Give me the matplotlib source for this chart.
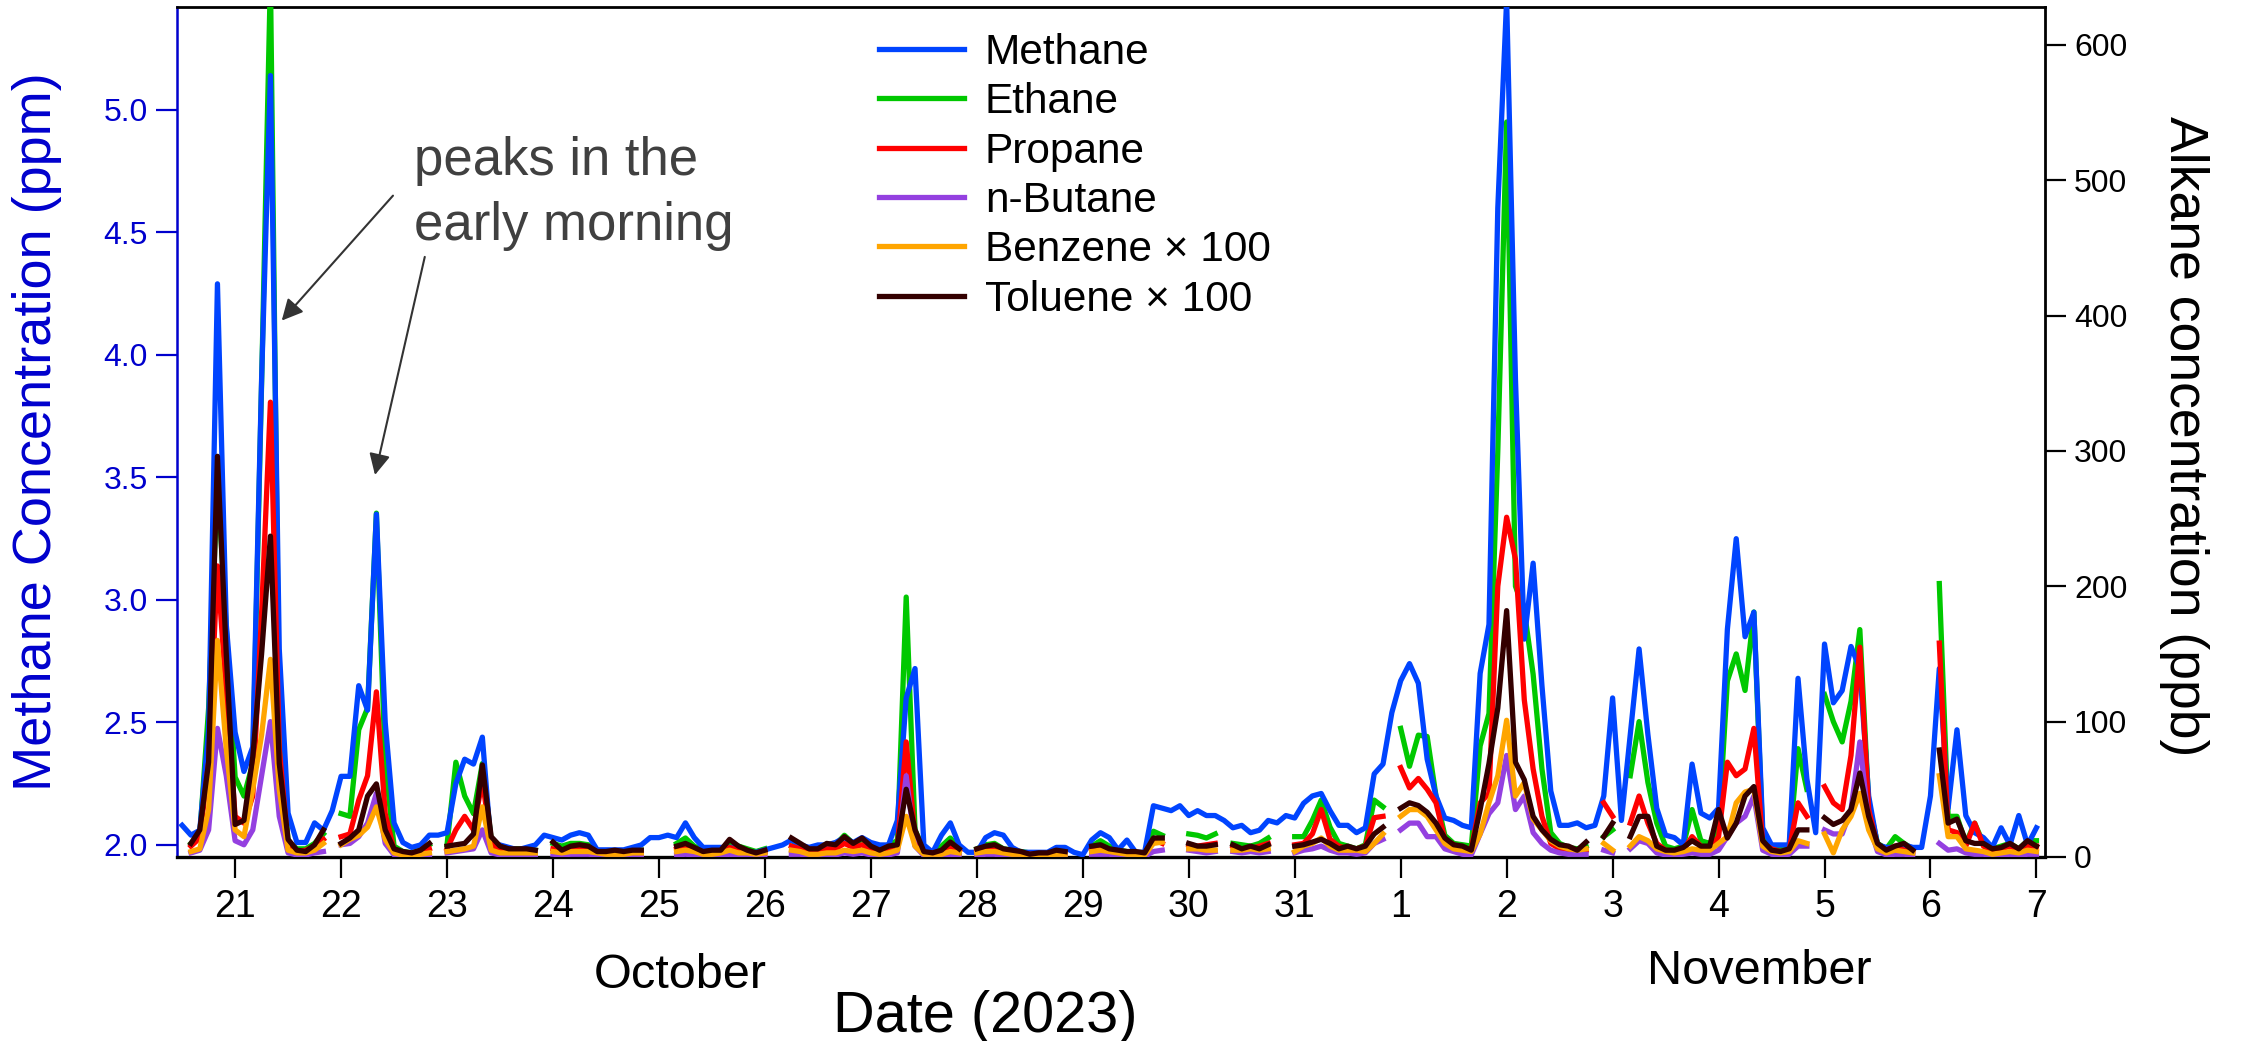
import numpy as np
import matplotlib
matplotlib.use("Agg")
import matplotlib.pyplot as plt
from matplotlib.ticker import FormatStrFormatter

plt.rcParams["font.family"] = ["Liberation Sans", "DejaVu Sans"]

nan = np.nan

# samples every 2 h starting 20 Oct 12:00; x axis = day of October (1 Nov = 32)
start_day = 20.5
step_hours = 2

# methane, ppm (left axis)
methane = [
    2.08, 2.04, 2.06, 2.47, 4.29, 2.90,  # Oct 20 (12h-22h)
    2.46, 2.30, 2.40, 3.90, 5.14, 2.80, 2.13, 2.01, 2.01, 2.09, 2.06, 2.14,  # Oct 21
    2.28, 2.28, 2.65, 2.55, 3.35, 2.50, 2.09, 2.01, 1.99, 2.00, 2.04, 2.04,  # Oct 22
    2.05, 2.25, 2.35, 2.33, 2.44, 1.99, 2.00, 1.99, 1.98, 1.99, 2.00, 2.04,  # Oct 23
    2.03, 2.02, 2.04, 2.05, 2.04, 1.98, 1.98, 1.98, 1.98, 1.99, 2.00, 2.03,  # Oct 24
    2.03, 2.04, 2.03, 2.09, 2.03, 1.99, 1.99, 1.99, 1.99, 1.99, 1.97, 1.97,  # Oct 25
    1.98, 1.99, 2.00, 2.02, 2.00, 1.99, 2.00, 2.00, 2.01, 2.03, 2.01, 2.03,  # Oct 26
    2.01, 2.00, 2.00, 2.10, 2.60, 2.72, 2.00, 1.97, 2.04, 2.09, 2.00, 1.97,  # Oct 27
    1.97, 2.03, 2.05, 2.04, 1.99, 1.97, 1.97, 1.97, 1.97, 1.99, 1.99, 1.97,  # Oct 28
    1.96, 2.02, 2.05, 2.03, 1.98, 2.02, 1.97, 1.97, 2.16, 2.15, 2.14, 2.16,  # Oct 29
    2.12, 2.14, 2.12, 2.12, 2.10, 2.07, 2.08, 2.05, 2.06, 2.10, 2.09, 2.12,  # Oct 30
    2.11, 2.17, 2.20, 2.21, 2.14, 2.08, 2.08, 2.05, 2.07, 2.29, 2.33, 2.54,  # Oct 31
    2.67, 2.74, 2.66, 2.35, 2.20, 2.11, 2.10, 2.08, 2.07, 2.70, 2.90, 4.60,  # Nov 1
    5.45, 3.90, 2.84, 3.15, 2.65, 2.22, 2.08, 2.08, 2.09, 2.07, 2.08, 2.20,  # Nov 2
    2.60, 2.10, 2.45, 2.80, 2.45, 2.15, 2.04, 2.03, 2.00, 2.33, 2.13, 2.11,  # Nov 3
    2.15, 2.88, 3.25, 2.85, 2.95, 2.07, 2.00, 2.00, 2.00, 2.68, 2.27, 2.05,  # Nov 4
    2.82, 2.58, 2.63, 2.81, 2.72, 2.20, 2.00, 1.99, 1.99, 2.00, 1.99, 1.99,  # Nov 5
    2.20, 2.72, 2.15, 2.47, 2.12, 2.05, 2.03, 1.99, 2.07, 2.00, 2.12, 2.00,  # Nov 6
    2.07,  # Nov 7
]

# alkanes and aromatics, ppb (right axis); nan = no GC sample
ethane = [
    nan, 10, 16, 110, 280, 170,
    59, 45, 69, 350, 650, 100, 11, 6, 6, 10, 17, nan,
    32, 30, 94, 110, 254, 69, 8, 4, 3, 5, 9, nan,
    9, 70, 45, 32, 69, 13, 5, 6, 6, 6, 5, nan,
    10, 8, 10, 10, 9, 5, 4, 4, 4, 5, 5, nan,
    nan, nan, 10, 14, 8, 5, 5, 5, 10, 8, 6, 4,
    6, nan, nan, 12, 9, 6, 6, 9, 9, 16, 10, 13,
    8, 6, 9, 12, 192, 20, 5, 4, 8, 14, 6, nan,
    6, 9, 10, 6, 5, 4, 3, 3, 3, 5, 4, nan,
    nan, 8, 12, 8, 5, 4, 3, 3, 19, 16, nan, nan,
    17, 16, 14, 17, nan, 10, 9, 8, 10, 14, nan, nan,
    15, 15, 27, 42, 22, 10, 8, 6, 9, 42, 37, nan,
    95, 67, 90, 89, 45, 16, 10, 9, 8, 82, 106, 300,
    543, 200, 182, 135, 65, 18, 10, 7, 6, 8, nan, 15,
    20, nan, 60, 100, 55, 25, 8, 6, 8, 35, 12, 10,
    20, 130, 150, 123, 181, 15, 8, 6, 8, 80, 50, nan,
    120, 100, 85, 115, 168, 40, 10, 6, 15, 10, 6, nan,
    nan, 202, 30, 30, 10, 25, 10, 6, 8, 10, 6, 12,
    12,
]

propane = [
    nan, 8, 14, 70, 215, 120,
    30, 25, 45, 180, 336, 80, 8, 4, 5, 8, 13, nan,
    15, 17, 42, 60, 122, 32, 5, 3, 2, 4, 6, nan,
    6, 20, 30, 20, 57, 10, 4, 4, 4, 4, 4, nan,
    6, 5, 6, 6, 6, 4, 3, 3, 3, 4, 4, nan,
    nan, nan, 6, 8, 5, 3, 3, 4, 7, 5, 4, 3,
    4, nan, nan, 8, 6, 4, 4, 6, 6, 10, 7, 9,
    5, 4, 5, 7, 85, 15, 3, 3, 4, 8, 4, nan,
    4, 6, 6, 4, 3, 3, 2, 2, 2, 3, 3, nan,
    nan, 5, 7, 5, 3, 3, 2, 2, 13, 10, nan, nan,
    9, 8, 9, 10, nan, 8, 6, 6, 8, 10, nan, nan,
    9, 10, 17, 35, 13, 8, 6, 6, 8, 29, 30, nan,
    66, 51, 58, 50, 40, 13, 9, 6, 6, 40, 47, 200,
    251, 220, 116, 65, 30, 10, 6, 5, 4, 5, nan, 40,
    30, nan, 25, 45, 25, 10, 5, 4, 5, 15, 8, 6,
    15, 70, 60, 65, 95, 10, 6, 4, 5, 40, 30, nan,
    52, 40, 35, 75, 155, 35, 8, 5, 8, 5, 4, nan,
    nan, 158, 20, 18, 8, 25, 8, 4, 6, 8, 5, 8,
    8,
]

n_butane = [
    nan, 3, 5, 20, 95, 60,
    12, 9, 20, 60, 100, 30, 3, 1.5, 1.5, 3, 4, nan,
    9, 10, 15, 25, 47, 10, 1.5, 1, 1, 1, 1.5, nan,
    3, 4, 5, 6, 20, 3, 1.5, 1.5, 1.5, 1.5, 1.5, nan,
    2, 1.5, 2, 2, 2, 1.5, 1, 1, 1, 1, 1, nan,
    nan, nan, 1.5, 2, 1.5, 1, 1, 1, 2, 1, 1, 1,
    1, nan, nan, 2, 2, 1, 1, 1.5, 1.5, 3, 2, 3,
    1.5, 1, 1.5, 3, 60, 8, 1, 1, 1, 2, 1, nan,
    1, 2, 2, 1, 1, 1, 0.5, 0.5, 0.5, 1, 1, nan,
    nan, 2, 2, 2, 1, 1, 1, 0.5, 4, 5, nan, nan,
    5, 4, 3, 4, nan, 4, 3, 4, 3, 4, nan, nan,
    3, 5, 6, 8, 5, 3, 3, 2, 3, 10, 13, nan,
    20, 25, 25, 15, 15, 6, 4, 2, 1.5, 17, 32, 40,
    75, 35, 45, 18, 10, 5, 3, 2, 2, 2, nan, 5,
    3, nan, 6, 12, 10, 3, 1.5, 1.5, 2, 3, 2, 2,
    5, 15, 25, 30, 45, 5, 2, 1.5, 2, 8, 8, nan,
    20, 17, 17, 35, 85, 25, 4, 1.5, 2, 2, 1.5, nan,
    nan, 10, 5, 6, 3, 2, 2, 1, 1, 2, 1, 2,
    2,
]

benzene_x100 = [
    nan, 4, 6, 35, 160, 80,
    20, 15, 50, 90, 146, 50, 5, 3, 3, 5, 10, nan,
    9, 13, 16, 22, 37, 13, 3, 1.5, 1, 2, 3, nan,
    4, 5, 6, 8, 37, 5, 3, 3, 3, 3, 3, nan,
    4, 3, 4, 4, 4, 3, 2, 2, 2, 3, 3, nan,
    nan, nan, 4, 5, 4, 2, 2, 3, 5, 3, 3, 2,
    3, nan, nan, 5, 4, 2, 2, 3, 3, 5, 4, 5,
    3, 2, 3, 5, 30, 8, 2, 2, 2, 4, 3, nan,
    3, 4, 4, 3, 2, 2, 1.5, 1.5, 1.5, 2, 2, nan,
    nan, 4, 5, 4, 3, 2, 2, 1.5, 10, 11, nan, nan,
    6, 6, 5, 5, nan, 5, 5, 6, 5, 6, nan, nan,
    4, 8, 10, 14, 8, 5, 5, 5, 4, 10, 17, nan,
    30, 35, 35, 30, 20, 10, 6, 5, 4, 17, 40, 60,
    101, 45, 55, 28, 20, 12, 8, 6, 5, 6, nan, 10,
    5, nan, 8, 15, 12, 6, 4, 3, 4, 6, 5, 5,
    10, 15, 40, 48, 50, 8, 4, 3, 4, 12, 10, nan,
    17, 3, 20, 30, 47, 20, 6, 3, 5, 4, 3, nan,
    nan, 60, 15, 15, 6, 5, 4, 2, 3, 4, 3, 5,
    4,
]

toluene_x100 = [
    nan, 10, 20, 70, 296, 150,
    24, 27, 74, 150, 237, 69, 13, 5, 4, 9, 20, nan,
    10, 14, 20, 45, 54, 20, 6, 4, 3, 5, 10, nan,
    8, 9, 10, 17, 68, 15, 8, 6, 6, 6, 5, nan,
    11, 5, 8, 9, 8, 4, 4, 5, 4, 5, 5, nan,
    nan, nan, 8, 10, 7, 4, 5, 5, 13, 8, 5, 3,
    5, nan, nan, 14, 10, 6, 6, 10, 9, 15, 10, 14,
    8, 5, 8, 9, 50, 20, 4, 3, 5, 11, 6, nan,
    6, 8, 9, 6, 5, 4, 2, 3, 3, 5, 4, nan,
    nan, 8, 9, 6, 5, 4, 4, 3, 14, 14, nan, nan,
    10, 8, 8, 9, nan, 9, 6, 8, 6, 9, nan, nan,
    8, 9, 11, 13, 10, 6, 8, 6, 8, 17, 22, nan,
    36, 40, 38, 33, 25, 14, 9, 8, 5, 35, 69, 110,
    182, 70, 57, 30, 20, 13, 9, 8, 5, 11, nan, 15,
    25, nan, 15, 30, 30, 8, 5, 5, 7, 12, 8, 8,
    35, 14, 25, 45, 52, 12, 5, 4, 6, 20, 20, nan,
    29, 24, 27, 35, 62, 30, 10, 5, 8, 10, 5, nan,
    nan, 79, 25, 28, 12, 10, 10, 6, 7, 10, 6, 12,
    8,
]

tick_days = list(range(21, 39))
tick_labels = [str(d) for d in range(21, 32)] + [str(d) for d in range(1, 8)]

days = start_day + np.arange(len(methane)) * step_hours / 24.0

CH4_COLOR = "#0044ff"
AXIS_BLUE = "#0000cd"

fig = plt.figure(figsize=(22.41, 10.41), dpi=100)
ax = fig.add_axes([0.079, 0.1768, 0.8335, 0.8165])
ax2 = ax.twinx()

ax.set_xlim(20.452, 38.08)
ax.set_ylim(1.951, 5.42)
ax2.set_ylim(0, 628)

lw = 3.8
# methane is drawn in the right-hand axes but with the left axis' scale,
# so that the alkane lines can sit on top of it
ax2.plot(days, ethane, color="#00c800", lw=lw, label="Ethane", zorder=2)
ax2.plot(days, methane, color=CH4_COLOR, lw=lw, label="Methane",
         transform=ax.transData, zorder=2.1)
ax2.plot(days, propane, color="#ff0000", lw=lw, label="Propane", zorder=2.2)
ax2.plot(days, n_butane, color="#9440e0", lw=lw, label="n-Butane", zorder=2.3)
ax2.plot(days, benzene_x100, color="#ffa500", lw=lw, label="Benzene × 100", zorder=2.4)
ax2.plot(days, toluene_x100, color="#330000", lw=lw, label="Toluene × 100", zorder=2.5)

# axes styling
ax.set_xticks(tick_days)
ax.set_xticklabels(tick_labels, fontsize=27)
ax.tick_params(axis="x", direction="out", length=15, width=1.6, pad=8, colors="black")
ax.set_yticks([2.0, 2.5, 3.0, 3.5, 4.0, 4.5, 5.0])
ax.yaxis.set_major_formatter(FormatStrFormatter("%.1f"))
ax.tick_params(axis="y", direction="out", length=15, width=1.6, pad=6,
               colors=AXIS_BLUE, labelsize=23)

ax2.set_yticks([0, 100, 200, 300, 400, 500, 600])
ax2.tick_params(axis="y", direction="out", length=15, width=1.6, pad=6,
                colors="black", labelsize=23)

ax.spines["left"].set_color(AXIS_BLUE)
ax.spines["left"].set_linewidth(1.8)
ax.spines["bottom"].set_linewidth(2.4)
ax.spines["top"].set_linewidth(2.0)
ax.spines["right"].set_visible(False)
for side in ["left", "top", "bottom"]:
    ax2.spines[side].set_visible(False)
ax2.spines["right"].set_linewidth(2.0)

# axis titles and month names
fig.text(37 / 2241, 1 - 432 / 1041, "Methane Concentration (ppm)", rotation=90,
         ha="center", va="center", fontsize=39, color=AXIS_BLUE)
fig.text(2184 / 2241, 1 - 436 / 1041, "Alkane concentration (ppb)", rotation=270,
         ha="center", va="center", fontsize=38.5, color="black")
xt = ax.get_xaxis_transform()
ax.text(25.2, -0.14, "October", transform=xt, ha="center", va="center", fontsize=35)
ax.text(35.38, -0.135, "November", transform=xt, ha="center", va="center", fontsize=35)
fig.text(985 / 2241, 1 - 1017 / 1041, "Date (2023)", ha="center", va="center", fontsize=41.5)

# annotation
fig.text(414 / 2241, 1 - 136 / 1041, "peaks in the\nearly morning", ha="left", va="top",
         fontsize=38, color="#404040", linespacing=1.38)
arrow = dict(arrowstyle="-|>", color="#333333", lw=1.5, mutation_scale=32,
             shrinkA=0, shrinkB=0)
ax.annotate("", xy=(21.44, 4.14), xytext=(22.49, 4.65), arrowprops=arrow)
ax.annotate("", xy=(22.32, 3.51), xytext=(22.79, 4.40), arrowprops=arrow)

# legend
handles, labels = ax2.get_legend_handles_labels()
order = ["Methane", "Ethane", "Propane", "n-Butane", "Benzene × 100", "Toluene × 100"]
hmap = dict(zip(labels, handles))
ax2.legend([hmap[k] for k in order], order, loc="upper left",
           bbox_to_anchor=(879 / 2241, 1 - 33 / 1041), bbox_transform=fig.transFigure,
           frameon=False, fontsize=30.5, handlelength=2.0, handletextpad=0.5,
           labelspacing=0.22, borderpad=0, borderaxespad=0)

fig.savefig("out.png", dpi=100)
